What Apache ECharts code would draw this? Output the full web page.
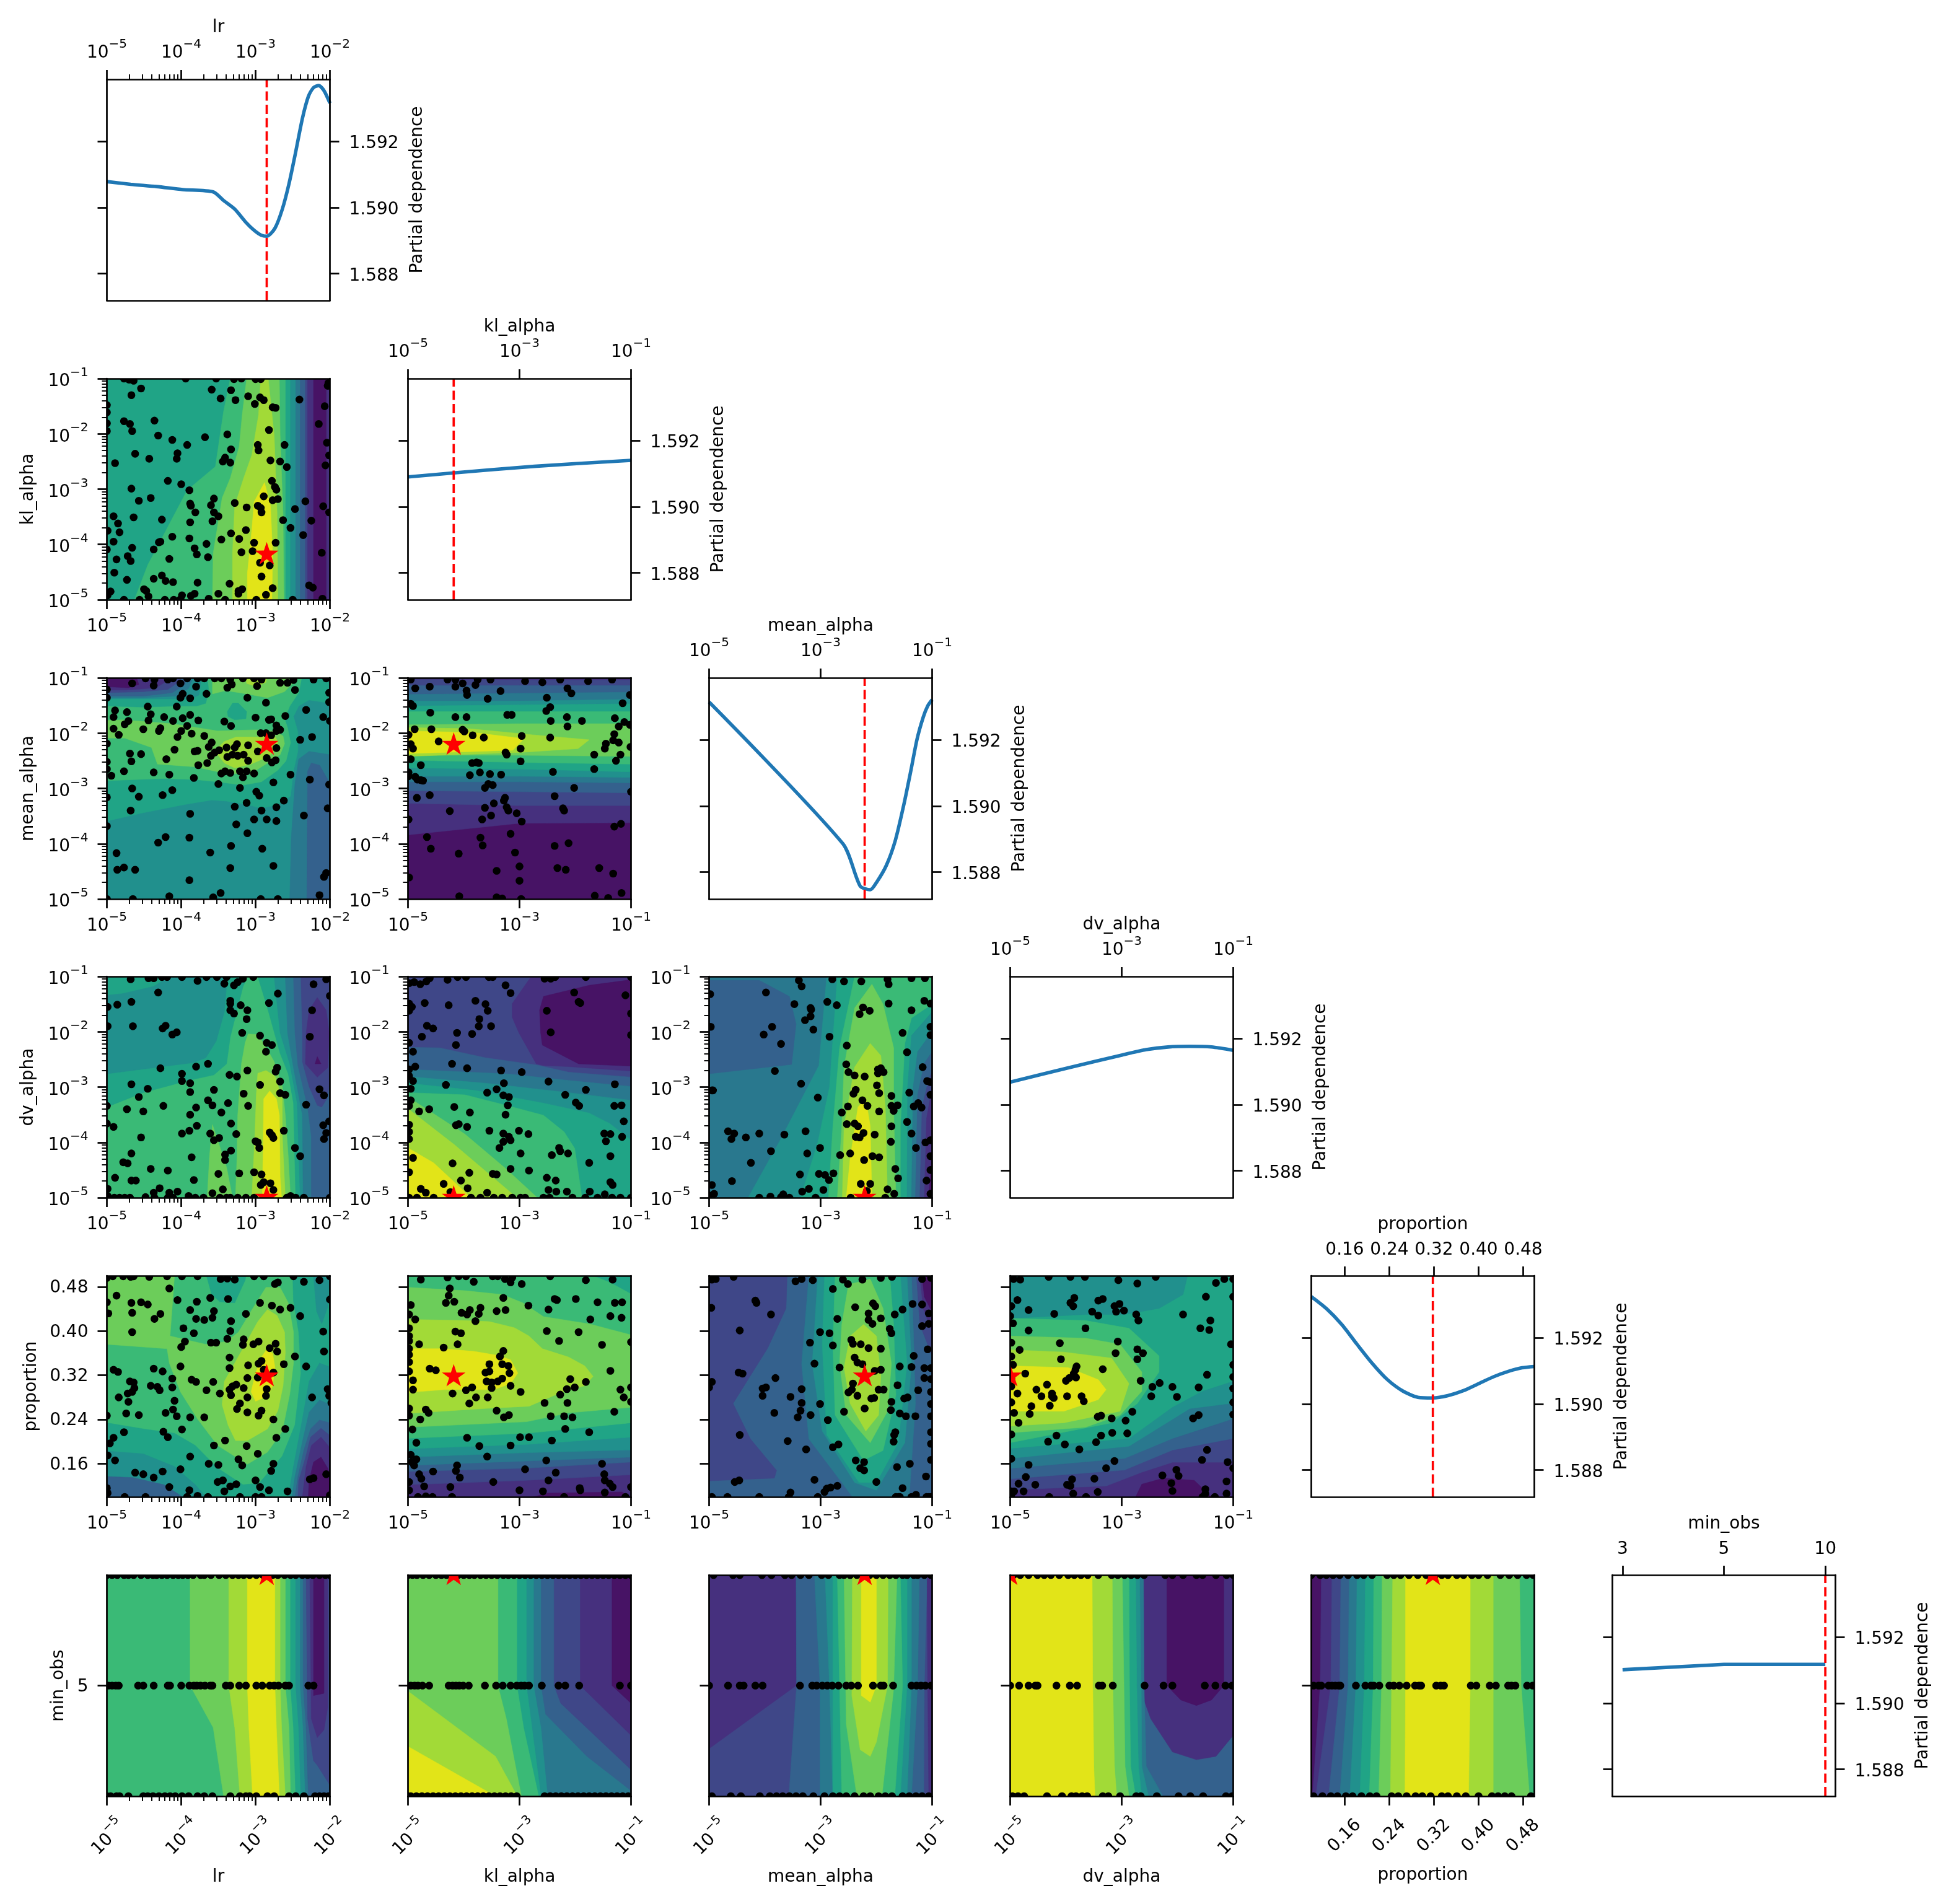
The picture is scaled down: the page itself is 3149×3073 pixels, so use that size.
<!DOCTYPE html>
<html>
<head>
<meta charset="utf-8">
<script src="https://cdn.jsdelivr.net/npm/echarts@6/dist/echarts.min.js"></script>
<style>html,body{margin:0;background:#fff}#main{width:3149px;height:3073px}</style>
</head>
<body>
<div id="main"></div>
<script>
// skopt style partial dependence matrix. log dimensions are kept as log10 in the arrays below.
var dims = ['lr', 'kl_alpha', 'mean_alpha', 'dv_alpha', 'proportion', 'min_obs'];
var bestPoint = [-2.85, -4.18, -2.21, -5, 0.318, 2];
var obsLabels = ['3', '5', '10'];
var depTicks = [1.588, 1.590, 1.592];
var propTicks = [0.16, 0.24, 0.32, 0.40, 0.48];
var lrTicks = [1e-5, 1e-4, 1e-3, 1e-2];
var alphaTicksX = [1e-5, 1e-3, 1e-1];
var alphaTicksY = [1e-5, 1e-4, 1e-3, 1e-2, 1e-1];
var levelColors = ['#471365', '#46307e', '#3f4788', '#34618d', '#29788e', '#21908d', '#20a486', '#3aba76', '#6ccd5a', '#a2da37', '#e2e418'];

// diagonal curves
var curveX0 = [-5,-4.68,-4.33,-3.98,-3.57,-3.43,-3.28,-3.13,-3.02,-2.93,-2.85,-2.74,-2.64,-2.55,-2.46,-2.37,-2.29,-2.22,-2.15,-2.08,-2];
var curveY0 = [1.59078,1.5907,1.59063,1.59054,1.59047,1.59021,1.58995,1.58955,1.58931,1.58917,1.58913,1.58937,1.58995,1.59072,1.59168,1.59269,1.59335,1.59362,1.59368,1.59353,1.59315];
var curveX1 = [-5,-4.18,-2.73,-1];
var curveY1 = [1.5909,1.59102,1.59122,1.5914];
var curveX2 = [-5,-2.6,-2.29,-2.11,-1.99,-1.82,-1.66,-1.51,-1.38,-1.27,-1.16,-1.08,-1];
var curveY2 = [1.59314,1.58886,1.58758,1.58747,1.58771,1.58821,1.58896,1.59002,1.59108,1.59202,1.59268,1.59302,1.59321];
var curveX3 = [-5,-3.96,-2.99,-2.56,-2.17,-1.78,-1.39,-1];
var curveY3 = [1.59068,1.59111,1.5915,1.59166,1.59174,1.59176,1.59174,1.59164];
var curveX4 = [0.1,0.127,0.155,0.182,0.209,0.236,0.264,0.291,0.318,0.345,0.373,0.4,0.427,0.455,0.478,0.5];
var curveY4 = [1.59324,1.59288,1.59239,1.5918,1.59123,1.59074,1.59039,1.5902,1.59018,1.59025,1.5904,1.59061,1.59082,1.59099,1.59109,1.59113];
var curveX5 = [0, 1, 2];
var curveY5 = [1.59101, 1.59117, 1.59117];

// contour band helpers: [level, x, y, x, y, ...]
function band(level, xs, tops, bottoms) {
    var r = [level], i;
    for (i = 0; i < xs.length; i++) r.push(xs[i], tops[i]);
    for (i = xs.length - 1; i >= 0; i--) r.push(xs[i], bottoms[i]);
    return r;
}
function strip(level, ys, lefts, rights) {
    var r = [level], i;
    for (i = 0; i < ys.length; i++) r.push(lefts[i], ys[i]);
    for (i = ys.length - 1; i >= 0; i--) r.push(rights[i], ys[i]);
    return r;
}

var regions_1_0 = [
    [6,-5,-1,-2,-1,-2,-5,-5,-5],
    [7,-3.34,-1,-3.43,-1.59,-3.54,-2.59,-3.92,-3.02,-4.45,-4.37,-4.63,-5,-2.6,-5,-2.6,-1],
    [8,-3.12,-1,-3.18,-1.66,-3.22,-2.23,-3.34,-2.8,-3.45,-3.16,-3.57,-4.16,-3.58,-5,-2.62,-5,-2.63,-3.45,-2.67,-2.02,-2.68,-1],
    [9,-2.93,-1,-2.96,-1.66,-3.05,-2.38,-3.16,-2.8,-3.28,-3.3,-3.31,-4.16,-3.31,-5,-2.7,-5,-2.71,-3.45,-2.75,-2.02,-2.83,-1],
    [10,-2.88,-2.88,-3.02,-3.23,-3.05,-3.73,-3.11,-4.52,-3.11,-5,-2.78,-5,-2.77,-4.16,-2.8,-3.3],
    [5,-2.53,-1,-2,-1,-2,-5,-2.53,-5],
    [4,-2.46,-1,-2,-1,-2,-5,-2.46,-5],
    [3,-2.4,-1,-2,-1,-2,-5,-2.4,-5],
    [2,-2.33,-1,-2,-1,-2,-5,-2.33,-5],
    [1,-2.3,-1,-2,-1,-2,-5,-2.3,-5],
    [0,-2.22,-1,-2.05,-1,-2.05,-5,-2.22,-5]
];
var regions_2_0 = [
    [5,-5,-1,-2,-1,-2,-5,-5,-5],
    [6,-5,-3.59,-4.51,-3.44,-3.95,-3.29,-3.59,-3.21,-3.39,-3.23,-3.12,-3.29,-2.92,-3.36,-2.7,-3.29,-2.53,-3.14,-2.49,-2.69,-2.43,-2.32,-2.43,-1.98,-2.49,-1.7,-2.42,-1.51,-2.28,-1.4,-2,-1.46,-2,-1,-5,-1],
    [7,-5,-2.86,-4.23,-2.82,-3.81,-2.84,-3.51,-2.88,-3.17,-2.94,-2.92,-2.88,-2.7,-2.67,-2.59,-2.5,-2.53,-2.17,-2.57,-1.9,-2.61,-1.74,-2.54,-1.51,-2.42,-1.27,-2.38,-1,-5,-1],
    [6,-3.38,-1.61,-3.31,-1.46,-3.23,-1.46,-3.12,-1.61,-3.13,-1.74,-3.28,-1.76,-3.37,-1.7],
    [8,-5,-1.77,-4.79,-1.76,-4.12,-1.83,-3.51,-1.96,-3,-1.94,-2.75,-1.96,-2.63,-2.05,-2.61,-2.19,-2.67,-2.39,-2.84,-2.54,-3.06,-2.73,-3.4,-2.73,-3.81,-2.61,-4.32,-2.56,-4.4,-2.26,-4.76,-2.09,-5,-2.09],
    [8,-3.58,-1,-3.58,-1.29,-3.4,-1.23,-3.12,-1.29,-2.84,-1.36,-2.61,-1.25,-2.43,-1],
    [9,-3.13,-1,-3.12,-1.1,-2.99,-1.16,-2.86,-1.08,-2.85,-1],
    [9,-3.52,-2.28,-3.42,-2.15,-3.26,-2.07,-2.95,-2.07,-2.75,-2.04,-2.7,-2.15,-2.71,-2.28,-2.84,-2.43,-3.06,-2.56,-3.28,-2.63,-3.42,-2.54,-3.51,-2.39],
    [4,-2.54,-5,-2.52,-3.89,-2.47,-2.91,-2.42,-2.47,-2.28,-2.33,-2,-2.39,-2,-5],
    [3,-2.31,-5,-2.3,-2.69,-2.25,-2.54,-2.14,-2.58,-2,-2.91,-2,-5],
    [6,-5,-1.51,-4.51,-1.53,-4.06,-1.51,-3.79,-1.51,-3.67,-1.46,-3.63,-1.23,-3.65,-1,-5,-1],
    [5,-5,-1.38,-3.87,-1.38,-3.76,-1.31,-3.73,-1,-5,-1],
    [4,-5,-1.36,-4.51,-1.36,-4.06,-1.33,-3.9,-1.19,-3.84,-1,-5,-1],
    [3,-5,-1.33,-4.51,-1.33,-4.12,-1.27,-3.95,-1.12,-3.93,-1,-5,-1],
    [2,-5,-1.27,-4.51,-1.25,-4.18,-1.21,-4.04,-1.08,-4,-1,-5,-1],
    [1,-5,-1.22,-4.73,-1.22,-4.34,-1.18,-4.22,-1.08,-4.2,-1,-5,-1],
    [0,-5,-1.16,-4.71,-1.18,-4.57,-1.12,-4.6,-1,-5,-1]
];
var xs3 = [-5, -3, -1];
var regions_2_1 = [
    [0,-5,-1,-1,-1,-1,-5,-5,-5],
    band(1, xs3, [-1,-1,-1], [-3.84,-3.63,-3.62]),
    band(2, xs3, [-1.03,-1.04,-1.04], [-3.27,-3.31,-3.31]),
    band(3, xs3, [-1.14,-1.14,-1.14], [-3.04,-3.06,-3.08]),
    band(4, xs3, [-1.3,-1.28,-1.26], [-2.88,-2.88,-2.9]),
    band(5, xs3, [-1.42,-1.42,-1.39], [-2.78,-2.78,-2.8]),
    band(6, xs3, [-1.51,-1.49,-1.47], [-2.63,-2.65,-2.7]),
    band(7, xs3, [-1.61,-1.61,-1.61], [-2.49,-2.53,-2.56]),
    band(8, xs3, [-1.85,-1.83,-1.83], [-2.4,-2.4,-2.42]),
    [9,-5,-1.9,-3.9,-1.92,-2.77,-2.03,-1.75,-2.12,-1.95,-2.28,-3,-2.35,-5,-2.42],
    [10,-5,-1.96,-3.82,-1.99,-2.92,-2.1,-3.12,-2.31,-5,-2.37]
];
var regions_3_0 = [
    [7,-5,-1,-2,-1,-2,-5,-5,-5],
    [6,-5,-3.36,-4.51,-3.1,-3.9,-2.88,-3.56,-2.78,-3.39,-2.58,-3.34,-2.09,-3.17,-1.19,-3.11,-1,-5,-1],
    [5,-5,-2.76,-4.37,-2.65,-3.84,-2.56,-3.67,-2.47,-3.53,-2.17,-3.42,-1.64,-3.38,-1,-4.15,-1,-4.37,-1.18,-4.79,-1.31,-5,-1.34],
    [8,-3.1,-2.04,-2.97,-2.05,-2.86,-2.28,-2.75,-2.54,-2.64,-2.99,-2.6,-3.51,-2.56,-4.26,-2.53,-5,-3.27,-5,-3.25,-4.26,-3.24,-3.51,-3.19,-2.58,-3.14,-2.2],
    [8,-3.58,-3.68,-3.51,-3.96,-3.39,-4.45,-3.31,-5,-3.65,-5,-3.62,-4.26],
    [9,-2.97,-2.75,-2.86,-2.7,-2.74,-2.8,-2.64,-3.21,-2.64,-3.89,-2.6,-5,-3.05,-5,-3.01,-3.89,-2.99,-3.14],
    [10,-2.81,-3.07,-2.72,-3.21,-2.68,-3.51,-2.67,-4.63,-2.65,-5,-2.91,-5,-2.9,-4.26,-2.89,-3.21],
    [6,-2.97,-1,-2.84,-1.57,-2.67,-2.39,-2.56,-2.76,-2.49,-3.29,-2.46,-5,-2,-5,-2,-1],
    [5,-2.75,-1,-2.67,-2.02,-2.54,-2.58,-2.44,-3.29,-2.4,-5,-2,-5,-2,-1],
    [4,-2.6,-1,-2.57,-2.02,-2.49,-2.65,-2.37,-3.51,-2.36,-5,-2,-5,-2,-1],
    [3,-2.49,-1,-2.47,-2.02,-2.43,-2.61,-2.3,-3.36,-2.25,-3.89,-2.25,-5,-2,-5,-2,-1],
    [2,-2.39,-1,-2.37,-2.02,-2.37,-2.54,-2.28,-2.99,-2.17,-3.33,-2.11,-3.36,-2.04,-3.21,-2,-2.91,-2,-1],
    [1,-2.17,-1.38,-2.28,-1.61,-2.32,-2.02,-2.33,-2.58,-2.17,-2.82,-2.03,-2.65,-2.01,-2.02,-2.05,-1.61],
    [0,-2.17,-2.45,-2.2,-2.58,-2.12,-2.58]
];
var regions_3_1 = [
    [2,-5,-1,-1,-1,-1,-5,-5,-5],
    [1,-2.79,-1,-3.13,-1.49,-3.13,-1.74,-3.01,-2.02,-2.7,-2.58,-2.57,-2.61,-2.12,-2.63,-1,-2.71,-1,-1],
    [0,-1,-1.06,-1.75,-1.16,-2.57,-1.36,-2.64,-1.61,-2.62,-2.02,-2.59,-2.24,-1.94,-2.58,-1,-2.62],
    [3,-5,-2.28,-4.43,-2.29,-3.61,-2.47,-2.7,-2.6,-2.12,-2.73,-1,-2.82,-1,-5,-5,-5],
    [4,-5,-2.68,-3.24,-2.76,-2.12,-2.88,-1,-2.99,-1,-5,-5,-5],
    [5,-5,-2.81,-3.61,-2.93,-2.12,-3.1,-1,-3.24,-1,-5,-5,-5],
    [6,-5,-2.93,-3.8,-3.06,-2.57,-3.29,-1.75,-3.47,-1.38,-3.66,-1,-3.96,-1,-5,-5,-5],
    [7,-5,-3.1,-3.98,-3.14,-3.24,-3.33,-2.57,-3.51,-2.2,-3.81,-2.01,-4.11,-1.88,-5,-5,-5],
    [8,-5,-3.18,-3.98,-3.85,-3.24,-4.48,-2.68,-5,-5,-5],
    [9,-5,-3.39,-4.17,-4.04,-3.13,-4.93,-3.07,-5,-5,-5],
    [10,-5,-4.1,-4.54,-4.37,-3.87,-5,-5,-5]
];
var regions_3_2 = [
    [4,-5,-1,-1,-1,-1,-5,-5,-5],
    [3,-5,-1.07,-4.1,-1.07,-3.56,-1.36,-3.44,-1.86,-3.52,-2.59,-5,-2.76],
    [5,-4.3,-5,-3.71,-3.93,-3.03,-2.61,-2.89,-1,-1,-1,-1,-5],
    [6,-3.36,-5,-3.05,-4,-2.84,-3,-2.7,-1,-1,-1,-1,-5],
    [7,-2.86,-5,-2.78,-3.71,-2.66,-2.29,-2.39,-1,-1,-1,-1,-1.5,-1.37,-1.75,-1.49,-2.21,-1.53,-3,-1.57,-3.71,-1.57,-5],
    [8,-2.7,-5,-2.62,-3.71,-2.58,-2.64,-2.39,-1.57,-2.08,-1.14,-1.88,-1.5,-1.69,-2.29,-1.69,-3.36,-1.65,-5],
    [9,-2.61,-5,-2.58,-3.71,-2.39,-2.64,-2.11,-2.21,-1.92,-2.43,-1.84,-3.36,-1.8,-5],
    [10,-2.54,-5,-2.47,-4.29,-2.33,-3.36,-2.19,-3.21,-2.11,-3.71,-2.08,-5],
    [5,-1.45,-5,-1.44,-3,-1.37,-2.07,-1,-1.64,-1,-5],
    [4,-1.37,-5,-1.34,-3,-1.26,-2.36,-1,-2,-1,-5],
    [3,-1.3,-5,-1.26,-3.14,-1.14,-2.57,-1,-2.36,-1,-5],
    [2,-1.22,-5,-1.18,-3.36,-1.06,-2.86,-1,-2.71,-1,-5],
    [1,-1.14,-5,-1.1,-3.57,-1,-3,-1,-5],
    [0,-1.06,-5,-1,-4.14,-1,-5]
];
var regions_4_0 = [
    [7,-5,0.5,-2,0.5,-2,0.1,-5,0.1],
    [6,-5,0.234,-4.51,0.223,-4.09,0.215,-3.81,0.193,-3.51,0.152,-3.17,0.122,-2.95,0.125,-2.64,0.174,-2.47,0.23,-2.39,0.324,-2.42,0.398,-2.49,0.454,-2.5,0.5,-2,0.5,-2,0.1,-5,0.1],
    [8,-5,0.5,-4.09,0.5,-4.15,0.391,-3.67,0.376,-3.39,0.381,-3.23,0.398,-3.06,0.436,-2.86,0.479,-2.67,0.479,-2.56,0.451,-2.49,0.398,-2.49,0.342,-2.54,0.286,-2.64,0.219,-2.84,0.181,-3.11,0.159,-3.51,0.193,-3.78,0.241,-4.01,0.29,-4.16,0.342,-4.19,0.368,-5,0.376],
    [6,-3.66,0.5,-3.59,0.466,-3.48,0.453,-3.28,0.451,-3.14,0.492,-3.13,0.5],
    [9,-2.84,0.439,-2.71,0.428,-2.61,0.398,-2.6,0.361,-2.63,0.301,-2.7,0.256,-2.84,0.223,-3.11,0.202,-3.27,0.202,-3.37,0.23,-3.45,0.267,-3.42,0.309,-3.28,0.342,-3.11,0.383,-2.97,0.417],
    [10,-2.85,0.367,-2.77,0.359,-2.74,0.335,-2.77,0.301,-2.84,0.282,-3,0.273,-3.06,0.29,-3,0.324,-2.92,0.353],
    [5,-5,0.183,-4.51,0.178,-4.09,0.155,-3.81,0.122,-3.67,0.1,-5,0.1],
    [3,-5,0.137,-4.65,0.135,-4.23,0.122,-3.98,0.1,-5,0.1],
    [5,-2.22,0.5,-2.18,0.436,-2.11,0.413,-2.03,0.443,-2,0.5],
    [5,-2,0.335,-2.14,0.342,-2.28,0.309,-2.37,0.241,-2.49,0.155,-2.56,0.1,-2,0.1],
    [4,-2,0.267,-2.14,0.275,-2.28,0.253,-2.37,0.2,-2.47,0.137,-2.51,0.1,-2,0.1],
    [3,-2,0.234,-2.14,0.239,-2.26,0.223,-2.35,0.185,-2.43,0.137,-2.47,0.1,-2,0.1],
    [2,-2,0.211,-2.12,0.224,-2.26,0.208,-2.33,0.17,-2.42,0.129,-2.43,0.1,-2,0.1],
    [1,-2,0.189,-2.12,0.208,-2.25,0.193,-2.32,0.155,-2.37,0.1,-2,0.1],
    [0,-2.03,0.152,-2.12,0.172,-2.22,0.163,-2.28,0.129,-2.29,0.1,-2,0.1,-2,0.14]
];
var xsMid = [-5, -2.87, -1];
var regions_4_1 = [
    [1,-5,0.5,-1,0.5,-1,0.1,-5,0.1],
    [0,-2.75,0.1,-2.49,0.107,-1.16,0.109,-1.04,0.1],
    band(2, xsMid, [0.5,0.5,0.5], [0.122,0.13,0.14]),
    band(3, xsMid, [0.5,0.5,0.5], [0.146,0.152,0.163]),
    band(4, xsMid, [0.5,0.5,0.5], [0.157,0.165,0.172]),
    band(5, xsMid, [0.5,0.5,0.5], [0.172,0.18,0.185]),
    band(6, xsMid, [0.5,0.5,0.5], [0.187,0.195,0.208]),
    [7,-5,0.5,-1.68,0.5,-1.38,0.488,-1,0.467,-1,0.234,-2.87,0.215,-5,0.206],
    [8,-5,0.479,-3.98,0.473,-3.31,0.466,-2.94,0.451,-2.57,0.426,-1.75,0.413,-1,0.393,-1,0.262,-2.12,0.252,-2.87,0.236,-5,0.226],
    [9,-5,0.421,-3.98,0.419,-3.54,0.417,-3.09,0.406,-2.83,0.391,-2.59,0.368,-2.12,0.353,-1.83,0.337,-1.68,0.318,-1.83,0.301,-2.23,0.29,-2.83,0.264,-3.61,0.26,-5,0.251],
    [10,-5,0.368,-4.35,0.368,-3.8,0.363,-3.39,0.356,-3.16,0.348,-3.03,0.324,-3.16,0.305,-3.46,0.294,-4.35,0.294,-5,0.289]
];
var regions_4_2 = [
    [3,-5,0.5,-1,0.5,-1,0.1,-5,0.1],
    [2,-5,0.5,-3.6,0.5,-3.62,0.441,-3.95,0.369,-4.57,0.269,-4.26,0.205,-3.79,0.148,-3.83,0.134,-5,0.129],
    [4,-3.21,0.5,-3.34,0.341,-3.21,0.205,-2.62,0.126,-2.43,0.1,-1.41,0.1,-1.3,0.269,-1.34,0.412,-1.37,0.5],
    [5,-3.05,0.5,-3.15,0.341,-2.97,0.219,-2.39,0.126,-2,0.112,-1.49,0.198,-1.37,0.341,-1.45,0.5],
    [6,-2.93,0.5,-2.97,0.376,-2.89,0.212,-2.31,0.126,-2,0.126,-1.61,0.198,-1.45,0.341,-1.57,0.5],
    [7,-2.74,0.5,-2.78,0.376,-2.74,0.248,-2.23,0.166,-1.88,0.184,-1.65,0.284,-1.69,0.412,-1.76,0.5],
    [8,-2.11,0.494,-1.88,0.441,-1.73,0.341,-1.8,0.255,-2.11,0.198,-2.54,0.248,-2.66,0.341,-2.62,0.412,-2.5,0.484],
    [9,-2.23,0.412,-2,0.391,-1.92,0.319,-1.96,0.248,-2.19,0.219,-2.47,0.269,-2.58,0.334,-2.47,0.391],
    [2,-1.28,0.5,-1.22,0.412,-1,0.355,-1,0.5],
    [1,-1.22,0.5,-1.16,0.441,-1,0.398,-1,0.5],
    [0,-1.18,0.5,-1.14,0.462,-1,0.434,-1,0.5]
];
var regions_4_3 = [
    [6,-5,0.5,-1,0.5,-1,0.1,-5,0.1],
    [5,-5,0.5,-1.82,0.5,-1.9,0.466,-2.33,0.441,-2.95,0.43,-3.65,0.43,-5,0.423],
    [5,-5,0.187,-2.87,0.205,-2.09,0.262,-1.55,0.291,-1,0.309,-1,0.1,-5,0.1],
    [4,-5,0.169,-2.87,0.191,-1.78,0.259,-1,0.269,-1,0.1,-5,0.1],
    [3,-5,0.151,-2.95,0.169,-2.09,0.205,-1,0.241,-1,0.1,-5,0.1],
    [2,-5,0.132,-2.95,0.148,-2.09,0.184,-1,0.205,-1,0.1,-5,0.1],
    [1,-5,0.112,-3.28,0.119,-2.64,0.144,-2.09,0.162,-1,0.162,-1,0.1,-5,0.1],
    [0,-2.75,0.1,-2.64,0.123,-2.25,0.134,-1.7,0.13,-1.39,0.1],
    [7,-5,0.423,-3.65,0.419,-2.87,0.405,-2.33,0.355,-2.33,0.326,-2.72,0.269,-3.18,0.234,-5,0.198],
    [8,-5,0.391,-3.65,0.387,-3.03,0.376,-2.64,0.326,-2.64,0.291,-3.03,0.248,-3.65,0.226,-5,0.216],
    [9,-5,0.366,-4.04,0.362,-3.18,0.351,-2.87,0.305,-3.03,0.255,-4.04,0.234,-5,0.228],
    [10,-5,0.337,-3.96,0.334,-3.42,0.312,-3.28,0.294,-3.42,0.276,-4.04,0.255,-5,0.255]
];
var ys4 = [2, 1, 0.62, 0];
var regions_5_0 = [
    [7,-5,2,-2,2,-2,0,-5,0],
    strip(8, ys4, [-3.88,-3.88,-3.57,-3.43], [-2.6,-2.6,-2.55,-2.53]),
    strip(9, ys4, [-3.36,-3.36,-3.28,-3.21], [-2.67,-2.67,-2.65,-2.6]),
    strip(10, ys4, [-3.11,-3.11,-3.09,-3.04], [-2.74,-2.74,-2.72,-2.68]),
    strip(6, ys4, [-2.53,-2.53,-2.49,-2.46], [-2,-2,-2,-2]),
    strip(5, ys4, [-2.46,-2.46,-2.42,-2.39], [-2,-2,-2,-2]),
    strip(4, ys4, [-2.4,-2.4,-2.36,-2.33], [-2,-2,-2,-2]),
    strip(3, ys4, [-2.36,-2.36,-2.32,-2.29], [-2,-2,-2,-2]),
    [2,-2.32,2,-2,2,-2,0.1,-2.17,0.28,-2.22,0.32,-2.3,0.7],
    [1,-2.27,2,-2.03,2,-2.03,0.8,-2.08,0.6,-2.17,0.53,-2.25,0.7],
    [0,-2.22,2,-2.08,2,-2.08,0.93,-2.22,0.91]
];
var regions_5_1 = [
    [8,-5,2,-1,2,-1,0,-5,0],
    [9,-5,0.95,-3.43,0.36,-3.04,0,-5,0],
    [10,-5,0.45,-3.43,0,-5,0],
    [7,-3.38,2,-3.38,1,-3.23,0.7,-2.96,0,-1,0,-1,2],
    [6,-3.04,2,-3.04,1,-2.92,0.62,-2.65,0,-1,0,-1,2],
    [5,-2.87,2,-2.87,1,-2.77,0.62,-2.61,0,-1,0,-1,2],
    [4,-2.74,2,-2.74,1,-2.61,0.62,-2.49,0,-1,0,-1,2],
    [3,-2.61,2,-2.61,1,-2.53,0.74,-1.79,0.36,-1,0.05,-1,2],
    [2,-2.38,2,-2.38,1,-2.26,0.84,-1,0.24,-1,2],
    [1,-1.91,2,-1.91,1,-1,0.55,-1,2],
    [0,-1.34,2,-1.34,1,-1,0.84,-1,2]
];
var regions_5_2 = [
    [2,-5,2,-1,2,-1,0,-5,0],
    [1,-5,2,-3.44,2,-3.44,1,-5,0.43],
    [3,-3.44,2,-3.43,1,-3.57,0,-1.15,0,-1.14,1,-1.09,2],
    [4,-3.11,2,-3.01,1,-3.01,0,-1.37,0,-1.26,1,-1.23,2],
    [5,-2.92,2,-2.84,1,-2.78,0,-1.45,0,-1.37,1,-1.37,2],
    [6,-2.78,2,-2.78,1,-2.78,0,-1.57,0,-1.45,1,-1.45,2],
    [7,-2.7,2,-2.66,1,-2.62,0,-1.67,0,-1.53,1,-1.57,2],
    [8,-2.58,2,-2.54,0.65,-2.35,0,-1.9,0,-1.69,0.97,-1.63,2],
    [9,-2.43,2,-2.44,0.91,-2.29,0.42,-2.11,0.36,-2,0.49,-1.8,1,-1.79,2],
    [10,-2.27,2,-2.27,1,-2.27,0.91,-2.11,0.85,-2,1,-2,2],
    [1,-1.09,2,-1,2,-1,0,-1.06,0,-1.08,1]
];
var ys3r = [2, 1, 0.27, 0];
var regions_5_3 = [
    [3,-5,2,-1,2,-1,0,-5,0],
    [1,-2.61,2,-1,2,-1,0.55,-1.31,0.36,-1.66,0.33,-2.09,0.4,-2.48,0.7,-2.6,0.87],
    [0,-2.19,2,-1.17,2,-1.17,1,-1.39,0.87,-1.66,0.82,-1.94,0.87,-2.19,1],
    strip(4, ys3r, [-5,-5,-5,-5], [-2.61,-2.6,-2.56,-2.26]),
    strip(5, ys3r, [-5,-5,-5,-5], [-2.68,-2.65,-2.64,-2.52]),
    strip(6, ys3r, [-5,-5,-5,-5], [-2.75,-2.73,-2.7,-2.64]),
    strip(7, ys3r, [-5,-5,-5,-5], [-2.87,-2.86,-2.84,-2.75]),
    strip(8, ys3r, [-5,-5,-5,-5], [-2.99,-2.96,-2.94,-2.87]),
    strip(9, ys3r, [-5,-5,-5,-5], [-3.17,-3.16,-3.13,-3.09]),
    strip(10, ys3r, [-5,-5,-5,-5], [-3.53,-3.52,-3.5,-3.48])
];
var ys3o = [2, 1, 0];
var regions_5_4 = [
    [0,0.1,2,0.5,2,0.5,0,0.1,0],
    strip(1, ys3o, [0.118,0.116,0.102], [0.5,0.5,0.5]),
    strip(2, ys3o, [0.137,0.135,0.108], [0.5,0.5,0.5]),
    strip(3, ys3o, [0.153,0.151,0.131], [0.5,0.5,0.5]),
    strip(4, ys3o, [0.168,0.166,0.151], [0.5,0.5,0.5]),
    strip(5, ys3o, [0.182,0.18,0.169], [0.5,0.5,0.5]),
    strip(6, ys3o, [0.197,0.195,0.187], [0.5,0.5,0.5]),
    strip(7, ys3o, [0.212,0.211,0.204], [0.5,0.5,0.5]),
    strip(8, ys3o, [0.227,0.226,0.221], [0.5,0.5,0.5]),
    strip(9, ys3o, [0.246,0.244,0.242], [0.5,0.5,0.5]),
    strip(10, ys3o, [0.269,0.269,0.268], [0.385,0.385,0.382]),
    strip(8, ys3o, [0.427,0.427,0.427], [0.5,0.5,0.5]),
    strip(7, ys3o, [0.474,0.477,0.492], [0.5,0.5,0.5])
];

// sampled points, flat x,y
var dots_1_0 = [-4.77,-1,-4.7,-1.02,-4.64,-1.04,-3.94,-1,-3.53,-1,-3.29,-1.01,-3.19,-1,-3,-1.01,-2.93,-1.01,-4.54,-1.18,-4.67,-1.3,-3.59,-1.2,-3.33,-1.21,-3.47,-1.36,-3.27,-1.39,-3.1,-1.32,-2.94,-1.34,-2.89,-1.39,-3.01,-1.46,-2.41,-1.38,-2.77,-1.52,-2.73,-1.53,-2.07,-1.5,-2.03,-1.13,-2.02,-1.08,-5,-1.48,-5,-1.61,-5,-1.81,-5,-1.95,-4.77,-1.77,-4.69,-1.82,-4.66,-1.95,-4.36,-1.76,-4.31,-2.03,-4.12,-2.11,-3.92,-2.2,-3.68,-2.06,-3.38,-2.01,-3.33,-2.28,-2.97,-2.2,-2.96,-2.3,-2.82,-1.93,-2.61,-2.2,-2.15,-1.82,-2.04,-2.16,-2.01,-2.39,-2.06,-2.57,-4.62,-2.36,-4.43,-2.45,-4.89,-2.53,-4.05,-2.35,-4.06,-2.45,-3.44,-2.5,-3.41,-2.43,-3.34,-2.52,-2.8,-2.48,-2.67,-2.5,-2.58,-2.6,-4.18,-2.85,-4,-2.91,-4.67,-2.99,-3.89,-3.02,-2.78,-2.85,-2.74,-2.96,-2.72,-3.01,-2.89,-3.13,-4.41,-3.16,-4.57,-3.21,-3.56,-3.17,-3.6,-3.29,-3.88,-3.26,-3.87,-3.3,-3.28,-3.25,-3.12,-3.33,-2.97,-3.3,-2.93,-3.34,-2.92,-3.42,-2.77,-3.2,-2.7,-3.18,-2.33,-3.22,-2.47,-3.36,-2.09,-3.31,-2.01,-3.42,-3.81,-3.42,-3.56,-3.42,-3.5,-3.49,-3.58,-3.58,-3.88,-3.6,-4.64,-3.51,-4.91,-3.49,-4.85,-3.62,-4.26,-3.55,-2.63,-3.56,-2.25,-3.57,-2.53,-3.7,-4.99,-3.75,-4.83,-3.78,-4.91,-3.95,-4.12,-3.86,-3.89,-3.89,-3.33,-3.8,-3.13,-3.74,-3.22,-3.9,-3.46,-3.91,-3.66,-3.99,-2.36,-3.83,-3.02,-3.97,-2.73,-3.97,-4.28,-3.95,-4.3,-3.96,-5,-4.09,-4.66,-4.06,-4.37,-4.09,-3.82,-4.07,-3.79,-4.18,-3.04,-4.12,-3.19,-4.14,-4.72,-4.21,-4.68,-4.3,-4.87,-4.27,-4.16,-4.26,-3.64,-4.23,-2.11,-4.15,-2.94,-4.33,-2.81,-4.38,-4.9,-4.51,-4.73,-4.64,-4.37,-4.62,-4.26,-4.56,-4.21,-4.66,-4.11,-4.68,-3.78,-4.69,-2.92,-4.58,-3.35,-4.71,-2.77,-4.79,-3.23,-4.84,-3.18,-4.81,-2.28,-4.74,-2.23,-4.78,-4.95,-4.85,-4.99,-4.92,-4.5,-4.81,-4.47,-4.84,-4.44,-4.94,-4.77,-5,-3.99,-4.92,-3.87,-4.93,-3.82,-4.89,-3.5,-4.89,-3.63,-4.98,-2.86,-4.91,-3.23,-4.89,-4.01,-4.99,-4.1,-5,-4.22,-5,-3.41,-5,-2.5,-5,-2.1,-4.98,-2.99,-5,-4.56,-5];
var dots_2_0 = [-4.66,-1.1,-4.48,-1.01,-4.37,-1.14,-4.36,-1.03,-4.18,-1.03,-4.11,-1.01,-4.01,-1.1,-3.92,-1.01,-3.8,-1.16,-3.78,-1.01,-3.69,-1.01,-3.55,-1.01,-3.46,-1.01,-3.38,-1.18,-3.32,-1.12,-3.34,-1.03,-3.17,-1.01,-3.02,-1.01,-2.98,-1.15,-2.92,-1.03,-2.67,-1.09,-2.57,-1.09,-2.49,-1.04,-2.22,-1.03,-2.05,-1.01,-2.47,-1.22,-3.66,-1.29,-3.11,-1.36,-2.86,-1.45,-3.88,-1.37,-4.01,-1.36,-3.98,-1.29,-5,-1.21,-5,-1.36,-2.01,-1.27,-2.01,-1.44,-4.06,-1.52,-4.45,-1.52,-4.89,-1.59,-4.73,-1.62,-4.91,-1.71,-4.41,-1.66,-4.23,-1.71,-4.44,-1.77,-3.98,-1.73,-3.88,-1.67,-3.77,-1.77,-4.11,-1.78,-3,-1.72,-2.6,-1.69,-2.32,-1.58,-2.09,-1.71,-2,-1.78,-4.71,-1.78,-4.76,-1.84,-3.42,-1.79,-3.33,-1.87,-2.82,-1.76,-2.79,-1.75,-2.72,-1.86,-2.67,-1.94,-2.72,-1.96,-3.92,-1.87,-4.91,-1.92,-4.84,-2.03,-4.51,-1.93,-4.28,-1.91,-4.3,-1.96,-4.0,-1.96,-3.86,-2.01,-4.05,-2.07,-3.69,-2.05,-2.93,-2,-2.86,-2,-2.79,-2.04,-2.4,-2.12,-2.24,-2.07,-5,-2.19,-3.59,-2.17,-3.63,-2.25,-3.1,-2.22,-3.25,-2.2,-3.28,-2.26,-3.39,-2.26,-3.49,-2.31,-4.09,-2.3,-3.78,-2.32,-3.82,-2.33,-4.69,-2.37,-4.54,-2.38,-3.55,-2.35,-3.6,-2.41,-3.38,-2.43,-3.31,-2.39,-3.24,-2.41,-3.16,-2.39,-2.97,-2.33,-2.72,-2.27,-4.2,-2.47,-4.67,-2.51,-3.65,-2.54,-3.77,-2.58,-3.1,-2.5,-2.85,-2.45,-2.78,-2.53,-2.73,-2.49,-5,-2.52,-5,-2.65,-4.77,-2.69,-4.37,-2.71,-4.16,-2.75,-4.94,-2.77,-3.83,-2.81,-3.46,-2.73,-3.41,-2.69,-3.34,-2.72,-3.21,-2.69,-3.12,-2.69,-3.02,-2.73,-3.17,-2.8,-2.53,-2.75,-2.27,-2.84,-2.01,-2.93,-3.5,-2.92,-2.76,-2.89,-3.21,-2.99,-4.66,-3.0,-4.25,-3.12,-4.57,-3.15,-5,-3.16,-2.99,-3.06,-2.95,-3.13,-2.62,-3.22,-3.12,-3.26,-3.28,-3.33,-2.72,-3.34,-2.03,-3.36,-4.68,-3.4,-3.88,-3.46,-2.92,-3.4,-2.35,-3.49,-3.02,-3.56,-2.85,-3.56,-2.72,-3.59,-5,-3.68,-3.26,-3.65,-3.11,-3.81,-4.21,-3.88,-3.89,-3.89,-4.31,-3.98,-4.12,-3.03,-3.33,-4.04,-2.91,-4.09,-4.87,-4.17,-3.61,-4.16,-2.76,-4.4,-4.77,-4.43,-4.86,-4.47,-4.62,-4.47,-3.34,-4.44,-2.05,-4.53,-2.08,-4.6,-3.89,-4.66,-3.47,-4.89,-2.14,-4.93,-5,-5,-4.65,-5,-4.16,-4.95,-3.57,-4.97,-2.93,-5,-2.7,-5];
var dots_2_1 = [-4.95,-1.03,-4.29,-1.03,-4.15,-1.03,-4.02,-1.1,-3.75,-1.03,-3.52,-1.03,-2.9,-1.06,-2.59,-1.08,-2.27,-1.03,-1.77,-1.06,-1.34,-1.03,-4.87,-1.19,-4.61,-1.16,-4.15,-1.16,-3.95,-1.23,-3.94,-1.31,-3.79,-1.13,-3.34,-1.24,-3.57,-1.38,-2.51,-1.36,-2.14,-1.19,-2.07,-1.28,-1.02,-1.31,-4.95,-1.47,-4.91,-1.51,-2.45,-1.53,-2.52,-1.6,-4.6,-1.63,-1.15,-1.46,-4.15,-1.71,-3.95,-1.71,-3.22,-1.67,-3.14,-1.67,-2.15,-1.71,-2.44,-1.78,-1.88,-1.78,-1.29,-1.73,-2.14,-1.88,-1.12,-1.8,-1.22,-1.88,-1.02,-1.85,-4.88,-1.93,-4.58,-1.93,-4.02,-1.94,-3.99,-1.97,-4.99,-2.03,-3.84,-2.04,-3.64,-2.08,-2.96,-2.05,-2.45,-2.08,-1.3,-2.02,-1.32,-2.13,-4.45,-2.15,-4.95,-2.2,-4.91,-2.28,-1.45,-2.19,-1.47,-2.28,-1.22,-2.17,-2.98,-2.28,-3.25,-2.35,-3.23,-2.39,-1.66,-2.39,-1.19,-2.39,-1.01,-2.25,-4.95,-2.47,-1.27,-2.5,-2.98,-2.51,-3.85,-2.54,-3.77,-2.53,-3.73,-2.54,-4.77,-2.58,-4.99,-2.71,-4.99,-2.78,-2.4,-2.7,-1.66,-2.65,-3.71,-2.71,-3.89,-2.76,-3.53,-2.74,-3.33,-2.75,-4.87,-2.79,-4.83,-2.84,-4.77,-2.85,-4.73,-2.86,-4.84,-3.17,-4.61,-3.12,-3.56,-2.92,-3.48,-2.94,-3.62,-2.99,-3.26,-3.17,-2.37,-3.14,-2.02,-2.99,-1,-3.06,-3.46,-3.27,-3.28,-3.22,-3.62,-3.35,-3.2,-3.4,-3.05,-3.45,-3.23,-3.34,-4.25,-3.41,-2.22,-3.36,-2.2,-3.4,-3.51,-3.49,-3.67,-3.56,-2.96,-3.6,-4.99,-3.56,-3.16,-3.82,-1.3,-3.69,-1.18,-3.64,-4.66,-3.88,-3.7,-3.89,-3.66,-4.03,-4.59,-4.09,-2.37,-4.04,-2.12,-3.99,-3.08,-4.16,-4.09,-4.18,-3,-4.41,-3.41,-4.49,-2.32,-4.44,-2.17,-4.47,-1.57,-4.44,-1.32,-4.54,-4.98,-4.61,-3,-4.67,-4.08,-4.95,-3.41,-4.97,-3.31,-4.99,-2.97,-5,-1.65,-4.94,-1.17,-4.89,-1.41,-4.98];
var dots_3_0 = [-4.68,-1.05,-4.44,-1.03,-4.37,-1.03,-4.26,-1.01,-4.19,-1.01,-3.99,-1.01,-3.78,-1.08,-3.66,-1.01,-3.52,-1.01,-3.39,-1.01,-3.42,-1.13,-3.29,-1.16,-3.24,-1.1,-3.17,-1.04,-3.03,-1.01,-2.22,-1.14,-2.05,-1.05,-4.31,-1.29,-2.7,-1.31,-2,-1.35,-4.67,-1.46,-4.99,-1.55,-4.86,-1.51,-3.34,-1.44,-3.34,-1.49,-3.2,-1.52,-2.82,-1.48,-3.11,-1.61,-3.34,-1.61,-3.29,-1.67,-2.24,-1.61,-3.12,-1.77,-4.99,-1.9,-4.65,-1.9,-4.21,-1.89,-4.25,-1.94,-4.06,-2.01,-4.12,-2.05,-3.18,-2.02,-2.94,-2.07,-2.27,-2.09,-2.85,-2.2,-2.78,-2.24,-2.86,-2.36,-3.64,-2.58,-3.8,-2.63,-4.28,-2.66,-2.71,-2.65,-2.73,-2.72,-3.11,-2.7,-3.99,-2.76,-3.35,-2.78,-3.25,-2.81,-3.99,-2.89,-3.88,-2.93,-4.67,-2.95,-2.94,-2.96,-2.67,-2.9,-4.45,-3.03,-3.56,-3.05,-3.88,-3.09,-3.16,-3.12,-2.67,-3.11,-2.6,-3.14,-2.14,-3.04,-2.08,-3.15,-4.57,-3.18,-3.64,-3.24,-3.58,-3.33,-3.37,-3.29,-5,-3.34,-4.24,-3.34,-4.73,-3.4,-4.51,-3.44,-3.8,-3.37,-3.1,-3.34,-2.32,-3.32,-3.88,-3.5,-3.46,-3.46,-3.33,-3.66,-5,-3.66,-4.91,-3.72,-2.09,-3.69,-2.01,-3.62,-3.79,-3.7,-3.89,-3.79,-2.81,-3.82,-2.78,-3.87,-2.62,-3.79,-3.99,-3.84,-3.61,-3.84,-3.26,-3.85,-4.54,-3.91,-3.49,-3.92,-3.56,-3.96,-2.76,-3.92,-2.05,-3.83,-2.08,-3.94,-3,-3.98,-2.97,-4,-2.95,-4.1,-2.47,-4.1,-3.33,-4.15,-3.41,-4.22,-4.67,-4.2,-2.4,-4.25,-3.41,-4.32,-3.86,-4.27,-4.78,-4.36,-4.72,-4.38,-4.41,-4.48,-4.18,-4.51,-3.5,-4.57,-3.22,-4.56,-3.02,-4.54,-2.92,-4.58,-4.89,-4.64,-4.67,-4.69,-4.61,-4.69,-3.83,-4.68,-2.89,-4.72,-2.8,-4.74,-2.93,-4.77,-2.76,-4.86,-3.44,-4.85,-4.99,-4.84,-4.29,-4.83,-4.37,-4.91,-4.16,-4.91,-4.05,-4.89,-3.58,-4.92,-4.99,-4.97,-4.9,-5,-4.83,-5,-4.76,-5,-4.69,-5,-4.48,-4.99,-4.36,-5,-4.18,-5,-4.11,-5,-3.9,-4.97,-3.81,-5,-3.7,-5,-3.48,-5,-3.39,-5,-3.34,-5,-3.24,-5,-3.13,-5,-3.02,-5,-2.58,-5,-2.53,-4.97,-2.46,-5,-2.35,-5,-2,-5];
var dots_3_1 = [-4.98,-1.12,-4.89,-1.1,-4.78,-1.14,-4.67,-1.09,-4.61,-1.03,-4.29,-1.06,-4.11,-1.01,-3.96,-1.01,-3.55,-1.01,-3.48,-1.01,-3.25,-1.16,-3.16,-1.3,-2.55,-1.04,-2.44,-1.04,-2.36,-1.01,-1.81,-1.01,-1,-1.01,-2.02,-1.29,-1.1,-1.34,-1.94,-1.46,-1.91,-1.48,-4.7,-1.48,-4.93,-1.55,-4.98,-1.49,-4.98,-1.62,-4.27,-1.52,-3.79,-1.44,-3.61,-1.5,-3.57,-1.62,-2.51,-1.62,-1,-1.67,-3.72,-1.77,-3.73,-1.9,-3.51,-1.9,-4.66,-1.89,-4.55,-1.94,-4.12,-2.02,-3.85,-2.04,-2.44,-2.01,-4.75,-2.09,-1,-2.06,-4.98,-2.2,-4.14,-2.24,-4.91,-2.36,-4.21,-2.58,-3.94,-2.66,-4.87,-2.63,-3.33,-2.7,-2.96,-2.73,-4.98,-2.68,-4.98,-2.8,-4.91,-2.89,-2.48,-2.9,-3.28,-2.93,-4.32,-2.96,-1.29,-2.95,-4.95,-3.03,-3.41,-3.04,-3.58,-3.1,-1.81,-3.05,-3.29,-3.15,-3.19,-3.18,-2.18,-3.14,-1.99,-3.28,-1.93,-3.34,-4.95,-3.24,-4.98,-3.34,-3.21,-3.33,-4.17,-3.36,-4.62,-3.4,-4.8,-3.44,-3.89,-3.46,-1.3,-3.34,-1.17,-3.33,-3.25,-3.5,-1.13,-3.62,-4.14,-3.69,-4.09,-3.67,-3.94,-3.72,-4.98,-3.68,-4.98,-3.81,-4.98,-3.94,-3.54,-3.79,-3.01,-3.79,-2.84,-3.85,-3.29,-3.84,-3.19,-3.9,-3.16,-3.96,-3.29,-3.99,-3.36,-4.1,-1.48,-3.84,-1.37,-3.85,-1.16,-3.9,-1.45,-3.98,-2.29,-4.1,-2.27,-4.16,-2.13,-4.2,-2.42,-4.23,-2.98,-4.2,-1.37,-4.25,-4.91,-4.28,-1.75,-4.37,-4.2,-4.38,-3.16,-4.48,-2.83,-4.51,-3.9,-4.55,-4.98,-4.54,-3.48,-4.57,-3.41,-4.58,-2.51,-4.64,-2.35,-4.69,-4.05,-4.69,-4.36,-4.75,-1.37,-4.72,-1.33,-4.77,-4.77,-4.84,-3.93,-4.83,-2.48,-4.86,-2.34,-4.89,-2.15,-4.89,-1.74,-4.89,-4.24,-4.9,-3.58,-4.91,-4.68,-4.91,-1.47,-4.94,-4.98,-5,-4.84,-5,-4.54,-5,-3.87,-5,-3.7,-5,-3.46,-5,-3.31,-5,-3.13,-5,-2.98,-5,-2.9,-5,-2.57,-5,-2.46,-5,-2.05,-5,-1.82,-5,-1.6,-5,-1.34,-5,-1.19,-5,-1,-5];
var dots_3_2 = [-3.39,-1.07,-3.34,-1.18,-2.79,-1.05,-2.58,-1.09,-2.27,-1.09,-1.8,-1.05,-1.78,-1.14,-1.37,-1.03,-1.13,-1.03,-4.98,-1.32,-3.98,-1.29,-3.47,-1.5,-3.17,-1.6,-3.18,-1.72,-3.18,-1.57,-2.88,-1.46,-2.71,-1.52,-2.24,-1.56,-2.3,-1.68,-2.12,-1.62,-1.78,-1.49,-1.37,-1.61,-1.14,-1.44,-1.03,-1.49,-4.97,-1.91,-3.28,-1.79,-3.87,-1.91,-4.02,-2.05,-3.13,-1.96,-3.71,-2.22,-2.84,-2.09,-2.53,-2.25,-1.53,-2.02,-1.03,-1.91,-1.03,-2.06,-1.45,-2.37,-3.82,-2.71,-2.54,-2.59,-1.17,-2.64,-2.5,-2.73,-2.39,-2.79,-2.21,-2.81,-1.97,-2.68,-1.92,-2.66,-1.87,-2.73,-1.97,-2.75,-1.09,-2.89,-1.03,-2.91,-3.35,-2.94,-1.99,-2.97,-4.93,-3.06,-4.95,-3.06,-2.37,-3.05,-2.41,-3.12,-1.95,-3.11,-1.73,-3.16,-1.41,-3.1,-3.05,-3.19,-2.25,-3.24,-2.16,-3.34,-2.51,-3.35,-1.62,-3.33,-1.73,-3.34,-1.69,-3.43,-1.95,-3.44,-2.62,-3.46,-1.33,-3.35,-1.25,-3.29,-1.19,-3.37,-1.03,-3.14,-2.53,-3.67,-2.39,-3.66,-2.33,-3.71,-1.73,-3.71,-1.45,-3.63,-4.66,-3.8,-4.55,-3.84,-4.6,-3.94,-4.34,-3.91,-4.1,-3.84,-3.65,-3.86,-3.27,-3.8,-2.23,-3.83,-2.03,-3.86,-2.37,-3.9,-2.3,-3.91,-1.37,-3.84,-1.74,-3.99,-1.12,-4,-1.03,-3.96,-3.89,-4.16,-3.01,-4.1,-3.24,-4.2,-2.65,-4.23,-2.47,-4.2,-2.22,-4.32,-2.07,-4.25,-1.95,-4.27,-1.29,-4.1,-1.03,-4.25,-4.25,-4.37,-1.66,-4.48,-3.03,-4.57,-2.92,-4.59,-2.77,-4.56,-3.37,-4.58,-1.03,-4.5,-1.61,-4.65,-4.95,-4.77,-2.85,-4.68,-4.59,-4.7,-1.1,-4.69,-3.21,-4.84,-2.95,-4.86,-2.28,-4.75,-2.11,-4.75,-2.17,-4.88,-1.8,-4.85,-4.91,-4.93,-3.67,-4.94,-3.33,-4.89,-1.68,-4.93,-5,-4.96,-3.9,-4.98,-4.1,-5,-3.71,-4.99,-3.56,-5,-3.09,-5,-2.46,-5,-2.23,-5,-1.84,-5,-1.03,-4.93];
var dots_4_0 = [-5,0.496,-4.92,0.499,-4.78,0.499,-4.68,0.498,-4.64,0.499,-4.43,0.498,-4.19,0.499,-3.99,0.499,-3.78,0.499,-3.47,0.494,-3.38,0.495,-3.28,0.493,-3.02,0.499,-2.89,0.499,-2.74,0.485,-2.7,0.488,-2.49,0.499,-2.35,0.489,-2.14,0.492,-2,0.499,-4.16,0.477,-4.87,0.464,-4.05,0.456,-3.79,0.453,-3.61,0.46,-3.37,0.458,-2,0.457,-5,0.452,-4.67,0.451,-4.54,0.452,-4.45,0.448,-2.94,0.451,-2.78,0.446,-2.67,0.439,-2.53,0.442,-4.98,0.432,-4.66,0.433,-4.28,0.431,-3.88,0.438,-3.56,0.436,-3.58,0.424,-3.13,0.431,-2.4,0.427,-4.36,0.422,-3.8,0.422,-3.69,0.42,-3.33,0.418,-3.97,0.405,-3.34,0.4,-3.83,0.396,-4.66,0.398,-2.09,0.399,-3.38,0.386,-3.16,0.385,-3.95,0.381,-3.6,0.379,-3.53,0.379,-3.17,0.375,-3.03,0.376,-2.96,0.381,-2.73,0.377,-4,0.371,-2.81,0.369,-2.71,0.363,-2.08,0.363,-3.35,0.352,-2.47,0.354,-2.92,0.346,-2.96,0.341,-3.1,0.338,-2.62,0.34,-4.01,0.336,-3.35,0.333,-2.32,0.336,-4.91,0.33,-4.85,0.326,-4.37,0.332,-4.25,0.327,-2.89,0.33,-2.76,0.325,-3.11,0.315,-2.97,0.316,-4.12,0.314,-3.86,0.312,-3.8,0.308,-3.57,0.308,-4.69,0.309,-4.64,0.307,-3.26,0.303,-3.31,0.3,-4.41,0.301,-4.32,0.299,-4.29,0.293,-4.63,0.297,-4.12,0.298,-3.16,0.297,-3.66,0.293,-3.48,0.287,-3.35,0.294,-3.33,0.284,-2.85,0.295,-2.86,0.283,-4.72,0.287,-4.66,0.29,-4.84,0.28,-2.03,0.295,-2.24,0.28,-2.01,0.283,-1.98,0.27,-4.71,0.272,-4.09,0.274,-3.11,0.28,-3.21,0.269,-3.25,0.259,-4.11,0.258,-2.92,0.256,-2.96,0.247,-3.11,0.253,-4.74,0.251,-4.21,0.252,-4.57,0.248,-5,0.247,-4.06,0.246,-3.88,0.244,-3.69,0.244,-2.76,0.24,-3.99,0.222,-2.6,0.223,-4.24,0.218,-4.77,0.217,-4.18,0.208,-4.91,0.207,-4.96,0.197,-2.72,0.207,-3.41,0.202,-3.56,0.193,-3.12,0.192,-2.97,0.178,-4.99,0.175,-3.88,0.173,-4.89,0.166,-3.23,0.168,-3.18,0.157,-3.63,0.16,-3.5,0.158,-2.76,0.16,-4.01,0.15,-4.25,0.146,-4.62,0.144,-4.51,0.141,-4.37,0.135,-2.79,0.147,-2.05,0.141,-2.27,0.132,-2.22,0.134,-3.44,0.13,-3.51,0.127,-3,0.13,-3.26,0.123,-3.34,0.119,-4.16,0.118,-2.94,0.118,-5,0.116,-3.89,0.112,-3.42,0.11,-2.82,0.112,-2.57,0.11,-4.99,0.107,-4.76,0.1,-4.48,0.1,-3.92,0.1,-3.78,0.102,-3.64,0.1,-3.21,0.1,-3,0.1,-2.92,0.1,-2,0.103];
var dots_4_1 = [-4.77,0.493,-4.29,0.497,-4.09,0.499,-3.96,0.499,-3.82,0.489,-3.48,0.499,-3.39,0.499,-3.26,0.494,-3.16,0.488,-3.13,0.497,-2.96,0.485,-2.45,0.499,-1.81,0.492,-1.33,0.493,-4.25,0.477,-4.27,0.464,-4.32,0.451,-4.17,0.453,-4.95,0.447,-3.29,0.46,-2.37,0.458,-2.33,0.456,-1.99,0.458,-1.6,0.452,-1.29,0.451,-1.16,0.452,-2.84,0.446,-2.48,0.439,-3.7,0.442,-3.89,0.438,-4.04,0.433,-3.94,0.43,-3.73,0.431,-3.41,0.436,-3.25,0.438,-4.98,0.43,-4.87,0.421,-3.79,0.418,-1.73,0.421,-1.37,0.427,-1.17,0.424,-4.98,0.405,-4.15,0.399,-4.05,0.396,-2.51,0.4,-1.94,0.398,-2.29,0.382,-1,0.38,-4.98,0.391,-4.98,0.382,-4.8,0.376,-4.11,0.376,-4.36,0.37,-1.52,0.375,-4.98,0.368,-3.29,0.364,-3.35,0.354,-4.98,0.357,-4.98,0.344,-3.54,0.34,-3.31,0.34,-3.2,0.337,-4.61,0.332,-4.5,0.329,-3.61,0.325,-3.54,0.327,-3.18,0.324,-1.37,0.328,-4.98,0.327,-4.91,0.311,-2.09,0.313,-1.81,0.308,-3.59,0.309,-3.5,0.307,-3.39,0.309,-3.31,0.314,-3.16,0.301,-4.91,0.294,-3.85,0.298,-3.96,0.293,-3.5,0.297,-2.98,0.29,-2.15,0.295,-2.01,0.298,-1.19,0.294,-1,0.298,-4.2,0.287,-3.78,0.28,-3.57,0.28,-2.27,0.285,-1.13,0.28,-3.9,0.269,-2.55,0.27,-2.14,0.27,-1,0.272,-4.98,0.26,-4.98,0.247,-4.68,0.258,-4.63,0.252,-3.41,0.256,-3.28,0.244,-3.19,0.248,-2.44,0.246,-2.2,0.246,-2.05,0.244,-1.3,0.254,-4.78,0.24,-4.92,0.222,-2.18,0.223,-1.75,0.217,-3.94,0.207,-2.99,0.208,-2.83,0.208,-2.42,0.202,-4.85,0.198,-3.72,0.192,-3.16,0.193,-4.95,0.176,-3.58,0.173,-4.85,0.168,-2.52,0.166,-4.93,0.163,-1.52,0.16,-4.12,0.157,-4.89,0.157,-4.14,0.147,-4.55,0.146,-2.9,0.15,-2.35,0.144,-1.48,0.141,-4.8,0.141,-4.76,0.133,-4.07,0.135,-2.48,0.13,-1.47,0.13,-1.38,0.124,-1.33,0.118,-3.47,0.127,-4.71,0.119,-4.24,0.118,-4.98,0.127,-1.92,0.116,-1.91,0.112,-3,0.112,-2.58,0.11,-1.47,0.108,-1,0.118,-4.98,0.112,-4.82,0.1,-4.68,0.101,-4.56,0.1,-4.21,0.1,-2.2,0.1,-1.1,0.1];
var dots_4_2 = [-4.95,0.493,-4.88,0.494,-4.56,0.498,-3.45,0.49,-3.34,0.494,-3.14,0.492,-2.6,0.493,-2.25,0.493,-1.92,0.496,-1.72,0.498,-1.18,0.494,-1.02,0.496,-2.78,0.476,-2.51,0.485,-4.96,0.442,-4.17,0.455,-4.15,0.451,-3.89,0.43,-2.06,0.45,-2.02,0.445,-2.38,0.443,-2.14,0.432,-1.53,0.439,-1.67,0.43,-1.35,0.449,-1.18,0.448,-1.06,0.432,-2.7,0.422,-2.14,0.42,-2.07,0.413,-1.92,0.423,-1.18,0.409,-1.06,0.413,-4.45,0.401,-3.01,0.398,-2.84,0.396,-1.76,0.404,-1.73,0.396,-3.19,0.379,-2.78,0.374,-2.45,0.384,-2.42,0.377,-2.28,0.376,-2.14,0.369,-1.92,0.368,-2.39,0.352,-2.34,0.343,-2.25,0.34,-1.33,0.355,-1.08,0.367,-3.11,0.341,-2.66,0.334,-1.92,0.33,-2.03,0.328,-1.58,0.336,-1.37,0.335,-1.14,0.333,-1.02,0.333,-4.47,0.325,-4.4,0.323,-3.81,0.315,-4.95,0.308,-5,0.298,-1.14,0.315,-1.02,0.313,-3.98,0.298,-4.04,0.296,-2.42,0.305,-2.44,0.294,-2.5,0.289,-3.34,0.295,-1.62,0.302,-1.96,0.294,-1.87,0.294,-1.25,0.293,-4.04,0.283,-3.54,0.281,-2.34,0.283,-2.09,0.278,-2.04,0.279,-1.44,0.28,-1.5,0.278,-1.02,0.29,-3.34,0.27,-1.73,0.272,-3.01,0.268,-2.21,0.26,-3.36,0.256,-3.83,0.252,-3.18,0.248,-3.41,0.244,-2.58,0.254,-1.74,0.257,-1.58,0.251,-1.47,0.246,-1.3,0.246,-2.87,0.239,-1.02,0.268,-1.02,0.246,-4.45,0.212,-1.66,0.217,-1.68,0.212,-1.69,0.2,-3.59,0.201,-2.68,0.195,-2.78,0.19,-3.26,0.186,-1.02,0.217,-1.02,0.196,-2.37,0.166,-2.22,0.163,-2.29,0.152,-2.22,0.148,-1.63,0.154,-1.4,0.16,-1.02,0.167,-3.11,0.131,-4.54,0.127,-4.46,0.13,-2,0.127,-1.11,0.137,-2.7,0.12,-2.82,0.117,-2.89,0.115,-2.93,0.109,-1.53,0.116,-3.54,0.108,-4.95,0.1,-4.67,0.1,-3.57,0.1,-1.6,0.1,-1.58,0.1,-1.29,0.104,-1.06,0.1,-3.05,0.1,-4.1,0.1,-1.65,0.1,-1.37,0.1,-1.1,0.1,-1.02,0.1];
var dots_4_3 = [-4.94,0.494,-4.82,0.493,-4.31,0.498,-3.92,0.498,-3.66,0.498,-3.06,0.492,-2.72,0.486,-2.39,0.498,-1.31,0.487,-1.16,0.494,-1,0.494,-4.87,0.456,-3.85,0.46,-3.92,0.451,-3.87,0.445,-3.34,0.458,-3.42,0.455,-3.53,0.435,-3.13,0.445,-3.04,0.449,-3.1,0.435,-2.96,0.437,-2.74,0.43,-2.7,0.419,-1.49,0.462,-1.9,0.43,-1,0.462,-4.98,0.445,-5,0.427,-4.67,0.438,-4.21,0.431,-3.42,0.428,-1.41,0.419,-4.95,0.414,-4.67,0.401,-3.65,0.405,-1.59,0.405,-1.43,0.402,-4.98,0.379,-4.83,0.366,-4.11,0.378,-3.07,0.381,-3.11,0.36,-2.72,0.367,-2.62,0.36,-2.72,0.349,-1.04,0.376,-4.98,0.354,-4.09,0.349,-3.81,0.336,-3.83,0.33,-3.86,0.323,-3.34,0.331,-4.95,0.339,-4.98,0.314,-4.73,0.323,-4,0.31,-3.94,0.315,-3.82,0.316,-2.66,0.31,-1.47,0.321,-1,0.339,-4.98,0.3,-4.34,0.303,-4.53,0.294,-4.87,0.287,-4.25,0.287,-4.25,0.282,-4.44,0.282,-4.22,0.279,-3.98,0.282,-3.72,0.282,-3.68,0.273,-2.32,0.306,-2.45,0.299,-2.09,0.299,-1.62,0.298,-1,0.317,-2.47,0.282,-2.01,0.281,-4.98,0.271,-4.29,0.265,-4.62,0.264,-1,0.296,-4.65,0.25,-4.93,0.252,-3.43,0.245,-3.37,0.247,-2.81,0.254,-3.18,0.242,-2.93,0.238,-4.85,0.234,-1.62,0.248,-1.72,0.242,-1,0.271,-1,0.249,-4.98,0.213,-3.17,0.216,-2.9,0.215,-3.37,0.211,-4.17,0.211,-4.32,0.2,-3.46,0.199,-4.02,0.195,-3.76,0.186,-1.47,0.185,-4.98,0.169,-3.13,0.165,-1.56,0.167,-3.28,0.152,-4.67,0.158,-1.1,0.163,-2.02,0.149,-4.72,0.136,-3.89,0.132,-3.49,0.133,-2.27,0.139,-1.98,0.138,-2.11,0.125,-1,0.152,-1.12,0.128,-4.85,0.124,-4.55,0.122,-3.98,0.122,-4.98,0.11,-4.76,0.11,-4.93,0.11,-3.43,0.109,-3.92,0.12,-3.87,0.106,-2.09,0.111,-1.5,0.114,-1.5,0.106,-1.12,0.106,-4.98,0.104,-1.55,0.1,-1.33,0.1,-4.3,0.1,-3.64,0.1];
// min_obs rows: one x list per level (2 is the top edge, 0 the bottom edge)
var obs_0_top = [-5,-4.93,-4.86,-4.77,-4.71,-4.64,-4.54,-4.45,-4.38,-4.33,-4.26,-4.19,-4.11,-4.04,-3.98,-3.91,-3.84,-3.74,-3.69,-3.6,-3.49,-3.4,-3.31,-3.23,-3.16,-3.08,-2.99,-2.9,-2.82,-2.77,-2.7,-2.61,-2.53,-2.46,-2.37,-2.3,-2.23,-2.14,-2.06,-2];
var obs_0_mid = [-4.98,-4.93,-4.88,-4.84,-4.58,-4.51,-4.37,-4.18,-4.15,-4,-3.89,-3.83,-3.79,-3.74,-3.68,-3.61,-3.58,-3.4,-3.34,-3.22,-3.13,-2.99,-2.91,-2.81,-2.75,-2.69,-2.6,-2.55,-2.29,-2.22];
var obs_0_low = [-5,-4.95,-4.87,-4.83,-4.71,-4.51,-4.45,-4.38,-4.3,-4.22,-4.15,-4.08,-3.99,-3.9,-3.78,-3.69,-3.58,-3.34,-3.21,-3.13,-3.08,-2.99,-2.84,-2.75,-2.55,-2.46,-2.35,-2.2,-2.14,-2.08,-2.02];
var obs_1_top = [-5,-4.92,-4.84,-4.73,-4.62,-4.5,-4.4,-4.31,-4.2,-4.1,-4,-3.9,-3.81,-3.7,-3.6,-3.5,-3.4,-3.29,-3.2,-3.1,-3,-2.9,-2.8,-2.7,-2.6,-2.5,-2.4,-2.3,-2.2,-2.1,-2,-1.9,-1.8,-1.7,-1.6,-1.5,-1.4,-1.3,-1.2,-1.1,-1];
var obs_1_mid = [-4.95,-4.88,-4.82,-4.74,-4.62,-4.27,-4.2,-4.14,-4.08,-4.01,-3.91,-3.62,-3.42,-3.3,-3.16,-3.05,-2.97,-2.91,-2.83,-2.6,-2.3,-2.18,-1.93,-1.2,-1];
var obs_1_low = [-5,-4.95,-4.85,-4.75,-4.65,-4.55,-4.45,-4.35,-4.25,-4.15,-4.05,-3.95,-3.85,-3.75,-3.65,-3.55,-3.45,-3.35,-3.25,-3.15,-3.05,-2.55,-2.45,-2.35,-2.25,-2.15,-2.05,-1.95,-1.85,-1.75,-1.65,-1.55,-1.45,-1.35,-1.25,-1.15,-1.05];
var obs_2_top = [-4.92,-4.57,-4.45,-4.05,-3.88,-3.64,-3.52,-3.36,-3.21,-2.98,-2.86,-2.66,-2.58,-2.47,-2.35,-2.23,-2.12,-2,-1.88,-1.76,-1.65,-1.53,-1.45,-1.33,-1.26,-1.14,-1.02];
var obs_2_mid = [-5,-4.66,-4.45,-4.38,-4.17,-4.04,-3.37,-3.15,-3.07,-2.97,-2.88,-2.79,-2.68,-2.54,-2.45,-2.33,-2.06,-1.92,-1.87,-1.7,-1.37,-1.28,-1.2,-1.12,-1.02];
var obs_2_low = [-4.95,-4.61,-4.43,-4.09,-3.91,-3.79,-3.68,-3.56,-3.44,-3.32,-3.13,-2.93,-2.78,-2.66,-2.54,-2.39,-2.23,-2.11,-1.96,-1.84,-1.72,-1.53,-1.41,-1.29,-1.18,-1.06];
var obs_3_top = [-4.94,-4.82,-4.67,-4.51,-4.39,-4.27,-4.12,-3.96,-3.85,-3.73,-3.61,-3.42,-3.18,-3.07,-2.95,-2.83,-2.72,-2.6,-2.22,-2.09,-1.9,-1.66,-1.55,-1.31,-1.12,-1];
var obs_3_mid = [-5,-4.84,-4.67,-4.55,-4.51,-4.17,-3.93,-3.8,-3.41,-3.35,-3.16,-2.59,-2.25,-2.09,-1.51,-1.32,-1.14,-1.02];
var obs_3_low = [-4.96,-4.86,-4.75,-4.34,-4.07,-3.9,-3.82,-3.71,-3.62,-3.34,-3.24,-3.03,-2.74,-2.66,-2.37,-1.98,-1.77,-1.54,-1.13,-1.02];
var obs_4_top = [0.1,0.116,0.127,0.139,0.151,0.166,0.182,0.194,0.209,0.236,0.248,0.26,0.275,0.291,0.306,0.322,0.334,0.345,0.361,0.373,0.388,0.4,0.416,0.439,0.455,0.47,0.486,0.498];
var obs_4_mid = [0.104,0.113,0.118,0.131,0.137,0.143,0.149,0.152,0.18,0.197,0.207,0.212,0.222,0.24,0.248,0.258,0.271,0.286,0.293,0.297,0.324,0.332,0.338,0.386,0.396,0.42,0.431,0.453,0.459,0.466,0.487,0.497];
var obs_4_low = [0.104,0.12,0.135,0.147,0.162,0.174,0.19,0.205,0.217,0.244,0.256,0.271,0.287,0.299,0.314,0.334,0.345,0.361,0.377,0.4,0.424,0.435,0.447,0.459,0.494];

var allRegions = {'1_0':regions_1_0,'2_0':regions_2_0,'2_1':regions_2_1,'3_0':regions_3_0,'3_1':regions_3_1,'3_2':regions_3_2,'4_0':regions_4_0,'4_1':regions_4_1,'4_2':regions_4_2,'4_3':regions_4_3,'5_0':regions_5_0,'5_1':regions_5_1,'5_2':regions_5_2,'5_3':regions_5_3,'5_4':regions_5_4};
var allDots = {'1_0':dots_1_0,'2_0':dots_2_0,'2_1':dots_2_1,'3_0':dots_3_0,'3_1':dots_3_1,'3_2':dots_3_2,'4_0':dots_4_0,'4_1':dots_4_1,'4_2':dots_4_2,'4_3':dots_4_3};
var allObs = [[obs_0_low,obs_0_mid,obs_0_top],[obs_1_low,obs_1_mid,obs_1_top],[obs_2_low,obs_2_mid,obs_2_top],[obs_3_low,obs_3_mid,obs_3_top],[obs_4_low,obs_4_mid,obs_4_top]];
var allCurves = [[curveX0,curveY0],[curveX1,curveY1],[curveX2,curveY2],[curveX3,curveY3],[curveX4,curveY4],[curveX5,curveY5]];

// layout
var W = 360, H = 357;
var colX = [172.5, 658.5, 1144.5, 1630.5, 2116.5, 2602.5];
var rowY = [128, 611, 1094, 1576, 2059, 2542];
var FONT = 'DejaVu Sans', FS = 28;
var LW = 2.7;

var grids = [], xAxes = [], yAxes = [], series = [];
var rich = {
    b: {fontSize: FS, fontFamily: FONT, verticalAlign: 'bottom', lineHeight: 38, color: '#000'},
    s: {fontSize: 20, fontFamily: FONT, verticalAlign: 'top', lineHeight: 38, color: '#000'}
};
function isLog(d) { return d <= 3; }
function val(d, v) { return isLog(d) ? Math.pow(10, v) : v; }
function fmt10(v) { return '{b|10}{s|\u2212' + Math.abs(Math.round(Math.log10(v))) + '}'; }
function labelFn(d) {
    if (isLog(d)) return fmt10;
    if (d == 4) return function (v) { return v.toFixed(2); };
    return function (v) { return obsLabels[Math.round(v)]; };
}
function minorsFor(d) {
    var out = [], k, m, top = d == 0 ? -2 : -1;
    for (k = -5; k < top; k++) for (m = 2; m < 10; m++) out.push(m * Math.pow(10, k));
    return out;
}
function limits(d, diag) {
    if (d == 0) return [1e-5, 1e-2];
    if (d <= 3) return [1e-5, 1e-1];
    if (d == 4) return [0.1, 0.5];
    return diag ? [-0.1, 2.1] : [0, 2];
}
function baseAxis(d, diag, gi, pos) {
    var lim = limits(d, diag);
    var o = {gridIndex: gi, position: pos, min: lim[0], max: lim[1], z: 20, splitLine: {show: false}};
    if (isLog(d)) { o.type = 'log'; o.logBase = 10; } else { o.type = 'value'; }
    return o;
}
function spineOnly(gi, pos) {
    return {type: 'value', gridIndex: gi, position: pos, min: 0, max: 1, z: 20,
        axisLine: {show: true, onZero: false, lineStyle: {color: '#000', width: LW}},
        axisTick: {show: false}, axisLabel: {show: false}, splitLine: {show: false}};
}
function tickAxis(o, ticks, showLabels, fn, margin, rotate, nudge) {
    o.axisLine = {show: true, onZero: false, lineStyle: {color: '#000', width: LW}};
    o.axisTick = {show: true, length: 15, customValues: ticks, lineStyle: {color: '#000', width: LW}};
    o.axisLabel = {show: showLabels, customValues: showLabels ? ticks : [], margin: margin, formatter: fn, rich: rich, fontSize: FS, fontFamily: FONT, color: '#000'};
    if (rotate) {
        o.axisLabel.rotate = rotate;
        o.axisLabel.align = 'center';
        o.axisLabel.verticalAlign = 'middle';
    }
    if (nudge) o.axisLabel.padding = [nudge, 0, 0, 0];
    return o;
}
function minorAxis(o, ticks) {
    o.axisLine = {show: false};
    o.axisTick = {show: true, length: 8, customValues: ticks, lineStyle: {color: '#000', width: 1.9}};
    o.axisLabel = {show: false, customValues: []};
    return o;
}
function nameIt(o, text, gap, rot) {
    o.name = text;
    o.nameLocation = 'middle';
    o.nameGap = gap;
    if (rot) o.nameRotate = rot;
    o.nameTextStyle = {fontSize: FS, fontFamily: FONT, color: '#000'};
    return o;
}
function xTickValues(d) {
    if (d == 0) return lrTicks;
    if (d <= 3) return alphaTicksX;
    if (d == 4) return propTicks;
    return [0, 1, 2];
}
function yTickValues(d) {
    if (d <= 3) return alphaTicksY;
    if (d == 4) return propTicks;
    return [1];
}

function addDiag(i) {
    var gi = grids.length;
    grids.push({left: colX[i], top: rowY[i], width: W, height: H, show: false});
    var xi = xAxes.length, yi = yAxes.length;
    var top = tickAxis(baseAxis(i, true, gi, 'top'), xTickValues(i), true, labelFn(i), isLog(i) ? 28 : 27);
    xAxes.push(nameIt(top, dims[i], i >= 4 ? 68 : 69));
    if (i == 0) xAxes.push(minorAxis(baseAxis(0, true, gi, 'top'), minorsFor(0)));
    xAxes.push(spineOnly(gi, 'bottom'));
    var dep = {type: 'value', gridIndex: gi, min: 1.58719, max: 1.59387, z: 20, splitLine: {show: false}};
    var left = JSON.parse(JSON.stringify(dep)); left.position = 'left';
    yAxes.push(tickAxis(left, depTicks, false, null, 30));
    var right = JSON.parse(JSON.stringify(dep)); right.position = 'right';
    yAxes.push(nameIt(tickAxis(right, depTicks, true, function (v) { return v.toFixed(3); }, 31, 0, 8), 'Partial dependence', 127, 90));
    var c = allCurves[i], line = [], j;
    for (j = 0; j < c[0].length; j++) line.push([val(i, c[0][j]), c[1][j]]);
    series.push({type: 'line', xAxisIndex: xi, yAxisIndex: yi, data: line, showSymbol: false, animation: false, silent: true, clip: true, z: 3,
        smooth: i == 5 ? false : 0.25, lineStyle: {color: '#1f77b4', width: 5.6}});
    var b = val(i, bestPoint[i]);
    // a best value on the axis minimum stays hidden under the spine
    if (b > limits(i, true)[0]) {
        series.push({type: 'line', xAxisIndex: xi, yAxisIndex: yi, data: [[b, 1.58719], [b, 1.59387]], showSymbol: false, animation: false, silent: true, clip: true, z: 4,
            lineStyle: {color: '#ff0000', width: 3.7, type: [15, 6.5]}});
    }
}

function renderRegion(regs) {
    return function (p, api) {
        var r = regs[p.dataIndex], pts = [], j;
        for (j = 1; j < r.length; j += 2) pts.push(api.coord([r.xd(r[j]), r.yd(r[j + 1])]));
        return {type: 'polygon', shape: {points: pts}, style: {fill: levelColors[r[0]], stroke: levelColors[r[0]], lineWidth: 0.6}};
    };
}
function renderDot(p, api) {
    var c = api.coord([api.value(0), api.value(1)]);
    return {type: 'circle', shape: {cx: c[0], cy: c[1], r: 6.3}, style: {fill: '#000'}};
}
function renderStar(p, api) {
    var c = api.coord([api.value(0), api.value(1)]), pts = [], k, a, rr;
    for (k = 0; k < 10; k++) {
        a = -Math.PI / 2 + k * Math.PI / 5;
        rr = k % 2 ? 7.7 : 20;
        pts.push([c[0] + rr * Math.cos(a), c[1] + rr * Math.sin(a)]);
    }
    return {type: 'polygon', shape: {points: pts}, style: {fill: '#ff0000'}};
}

function addPanel(r, c) {
    var gi = grids.length, key = r + '_' + c;
    grids.push({left: colX[c], top: rowY[r], width: W, height: H, show: false});
    var xi = xAxes.length, yi = yAxes.length;
    var bottom = tickAxis(baseAxis(c, false, gi, 'bottom'), xTickValues(c), true, labelFn(c), r == 5 ? 64 : (isLog(c) ? 20 : 30), r == 5 ? 45 : 0);
    if (r == 5) nameIt(bottom, dims[c], c == 4 ? 114 : 117);
    xAxes.push(bottom);
    if (c == 0) xAxes.push(minorAxis(baseAxis(0, false, gi, 'bottom'), minorsFor(0)));
    xAxes.push(spineOnly(gi, 'top'));
    var showY = c == 0 || r <= 3;
    var left = tickAxis(baseAxis(r, false, gi, 'left'), yTickValues(r), showY, labelFn(r), 30, 0, r >= 4 ? 4 : 0);
    if (c == 0) nameIt(left, dims[r], r == 5 ? 64 : (r == 4 ? 108 : 113), 90);
    yAxes.push(left);
    if (r <= 3) yAxes.push(minorAxis(baseAxis(r, false, gi, 'left'), minorsFor(r)));
    yAxes.push(spineOnly(gi, 'right'));

    var regs = allRegions[key];
    regs.forEach(function (g) {
        g.xd = function (v) { return val(c, v); };
        g.yd = function (v) { return val(r, v); };
    });
    series.push({type: 'custom', xAxisIndex: xi, yAxisIndex: yi, clip: true, animation: false, silent: true, z: 2,
        data: regs.map(function () { return [1, 1]; }), renderItem: renderRegion(regs)});

    var pts = [], j;
    if (r == 5) {
        allObs[c].forEach(function (list, level) {
            list.forEach(function (x) { pts.push([val(c, x), level]); });
        });
    } else {
        var flat = allDots[key];
        for (j = 0; j < flat.length; j += 2) pts.push([val(c, flat[j]), val(r, flat[j + 1])]);
    }
    series.push({type: 'custom', xAxisIndex: xi, yAxisIndex: yi, clip: true, animation: false, silent: true, z: 3,
        data: pts, encode: {x: 0, y: 1}, renderItem: renderDot});
    series.push({type: 'custom', xAxisIndex: xi, yAxisIndex: yi, clip: true, animation: false, silent: true, z: 4,
        data: [[val(c, bestPoint[c]), val(r, bestPoint[r])]], encode: {x: 0, y: 1}, renderItem: renderStar});
}

var r, c;
for (r = 0; r < 6; r++) {
    for (c = 0; c < r; c++) addPanel(r, c);
    addDiag(r);
}

var chart = echarts.init(document.getElementById('main'));
chart.setOption({animation: false, backgroundColor: '#fff', grid: grids, xAxis: xAxes, yAxis: yAxes, series: series});
</script>
</body>
</html>
